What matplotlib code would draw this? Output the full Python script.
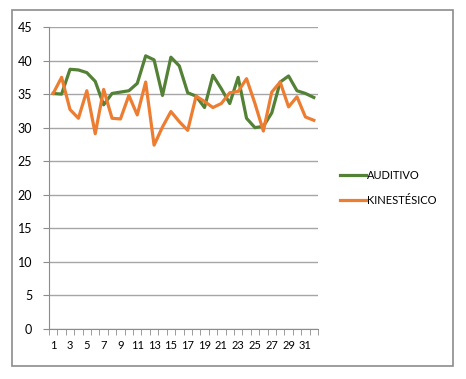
import numpy as np
import matplotlib.pyplot as plt
from matplotlib.patches import Rectangle

# data
x = np.arange(1, 33)

auditivo = [35.1, 35.0, 38.7, 38.6, 38.2, 36.9, 33.4, 35.1, 35.3, 35.5,
            36.6, 40.7, 40.1, 34.8, 40.5, 39.2, 35.2, 34.7, 33.0, 37.8,
            35.8, 33.6, 37.5, 31.4, 30.0, 30.2, 32.2, 36.8, 37.7, 35.5,
            35.1, 34.5]

kinestesico = [35.1, 37.5, 32.7, 31.4, 35.5, 29.1, 35.7, 31.4, 31.3, 34.8,
               31.9, 36.8, 27.4, 30.1, 32.4, 30.9, 29.6, 34.7, 33.9, 33.0,
               33.6, 35.2, 35.4, 37.3, 33.6, 29.5, 35.3, 36.8, 33.1, 34.6,
               31.6, 31.1]

labels = ["AUDITIVO", "KINESTÉSICO"]
xtick_labels = [str(i) for i in range(1, 33, 2)]
yticks = list(range(0, 50, 5))

plt.rcParams['font.family'] = ['Lato', 'DejaVu Sans']

fig = plt.figure(figsize=(4.66, 3.79), dpi=100)

# outer chart border
fig.patches.append(Rectangle((12 / 466, 1 - 366 / 379), 441 / 466, 356 / 379,
                             transform=fig.transFigure, fill=False,
                             edgecolor="#8c8c8c", linewidth=1.2))

ax = fig.add_axes([49 / 466, 1 - 329 / 379, 269 / 466, 302 / 379])

ax.plot(x, auditivo, color="#538135", linewidth=2.3, label=labels[0])
ax.plot(x, kinestesico, color="#ED7D31", linewidth=2.3, label=labels[1])

ax.set_xlim(0.5, 32.5)
ax.set_ylim(0, 45)

ax.set_yticks(yticks)
ax.tick_params(axis="y", length=4, color="#8c8c8c", labelsize=9, pad=8)
ax.grid(axis="y", color="#a6a6a6", linewidth=1)
ax.set_axisbelow(True)

ax.set_xticks(range(1, 33, 2))
ax.set_xticklabels(xtick_labels)
ax.tick_params(axis="x", which="major", length=0, labelsize=8, pad=8)
ax.set_xticks(np.arange(0.5, 33, 1), minor=True)
ax.tick_params(axis="x", which="minor", length=4, color="#8c8c8c")

for side in ["top", "right"]:
    ax.spines[side].set_visible(False)
for side in ["left", "bottom"]:
    ax.spines[side].set_color("#8c8c8c")

fig.legend(loc="center left", bbox_to_anchor=(330 / 466, 1 - 188 / 379),
           frameon=False, fontsize=8, handlelength=2.3, handletextpad=0.1,
           labelspacing=1.2)

plt.savefig("out.png", dpi=100)
